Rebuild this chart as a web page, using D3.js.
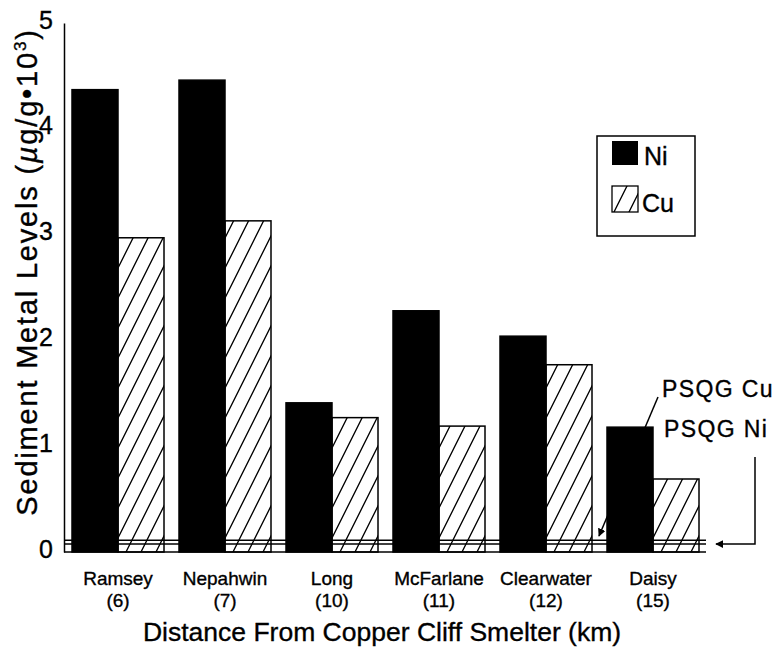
<!DOCTYPE html>
<html>
<head>
<meta charset="utf-8">
<script src="https://cdn.jsdelivr.net/npm/d3@7"></script>
<style>
  body { margin: 0; background: #fff; }
  text { font-family: "Liberation Sans", Arial, sans-serif; fill: #000; stroke: #000; stroke-width: 0.35px; }
</style>
</head>
<body>
<div id="chart"></div>
<script>
// lakes and their distance from the smelter (km)
const lakes = ["Ramsey", "Nepahwin", "Long", "McFarlane", "Clearwater", "Daisy"];
const distances = ["(6)", "(7)", "(10)", "(11)", "(12)", "(15)"];
// sediment metal levels, ug/g x 10^3
const niValues = [4.37, 4.46, 1.41, 2.28, 2.04, 1.18];
const cuValues = [2.97, 3.13, 1.27, 1.19, 1.77, 0.69];
const metals = ["Ni", "Cu"];
// guideline levels
const psqgCu = 0.11;
const psqgNi = 0.075;
const yTicks = [0, 1, 2, 3, 4, 5];

const width = 779, height = 653;

const svg = d3.select("#chart").append("svg")
    .attr("width", width)
    .attr("height", height);

// diagonal hatch for Cu
const defs = svg.append("defs");
defs.append("pattern")
    .attr("id", "hatch")
    .attr("patternUnits", "userSpaceOnUse")
    .attr("width", 15)
    .attr("height", 30)
    .append("path")
    .attr("d", "M-1,32 L16,-2 M14,32 L31,-2 M-16,32 L1,-2")
    .attr("stroke", "#000")
    .attr("stroke-width", 1.3);

const y = d3.scaleLinear().domain([0, 5]).range([552, 23]);
const x = d3.scaleBand().domain(lakes).range([72, 699]).paddingInner(15 / 107).paddingOuter(0);
const xInner = d3.scaleBand().domain(metals).range([0, x.bandwidth()]);

const axisX = 64, axisRight = 706;

// bars
const data = lakes.map((lake, i) => ({ lake, Ni: niValues[i], Cu: cuValues[i] }));
const groups = svg.selectAll(".grp")
    .data(data)
    .enter().append("g")
    .attr("class", "grp")
    .attr("transform", d => `translate(${x(d.lake)},0)`);

groups.selectAll("rect")
    .data(d => metals.map(m => ({ metal: m, value: d[m] })))
    .enter().append("rect")
    .attr("x", d => xInner(d.metal))
    .attr("y", d => y(d.value))
    .attr("width", xInner.bandwidth())
    .attr("height", d => y(0) - y(d.value))
    .attr("fill", d => d.metal === "Ni" ? "#000" : "url(#hatch)")
    .attr("stroke", "#000")
    .attr("stroke-width", 1.5);

// PSQG lines
[psqgCu, psqgNi].forEach(v => {
    svg.append("line")
        .attr("x1", axisX).attr("x2", axisRight)
        .attr("y1", y(v)).attr("y2", y(v))
        .attr("stroke", "#000").attr("stroke-width", 1.5);
});

// baseline
svg.append("line")
    .attr("x1", axisX).attr("x2", axisRight)
    .attr("y1", y(0)).attr("y2", y(0))
    .attr("stroke", "#000").attr("stroke-width", 1.5);

// y axis
const yAxis = d3.axisLeft(y).tickValues(yTicks).tickFormat(d3.format("d"))
    .tickSizeInner(0).tickSizeOuter(0).tickPadding(11);
const gy = svg.append("g")
    .attr("transform", `translate(${axisX},0)`)
    .call(yAxis);
gy.select(".domain").attr("stroke", "#000").attr("stroke-width", 1.5);
gy.selectAll("text")
    .style("font-family", "'Liberation Sans', Arial, sans-serif")
    .style("font-size", "25px")
    .attr("dy", "0.2em");

// y title
svg.append("text")
    .attr("transform", `translate(37,272) rotate(-90)`)
    .attr("text-anchor", "middle")
    .style("font-size", "29px")
    .style("letter-spacing", "1.8px")
    .html("Sediment Metal Levels (<tspan font-style='italic'>µ</tspan>g/g•10<tspan dy='-11' font-size='17px'>3</tspan><tspan dy='11'>)</tspan>");

// category labels
lakes.forEach((lake, i) => {
    const cx = x(lake) + x.bandwidth() / 2;
    svg.append("text").attr("x", cx).attr("y", 585)
        .attr("text-anchor", "middle").style("font-size", "19px").text(lake);
    svg.append("text").attr("x", cx).attr("y", 607)
        .attr("text-anchor", "middle").style("font-size", "19px").text(distances[i]);
});

// x title
svg.append("text")
    .attr("x", 382).attr("y", 641)
    .attr("text-anchor", "middle")
    .style("font-size", "26.5px")
    .text("Distance From Copper Cliff Smelter (km)");

// legend
const lg = svg.append("g");
lg.append("rect").attr("x", 597).attr("y", 136).attr("width", 98).attr("height", 100)
    .attr("fill", "#fff").attr("stroke", "#000").attr("stroke-width", 1.5);
lg.append("rect").attr("x", 612).attr("y", 141).attr("width", 26).attr("height", 24)
    .attr("fill", "#000");
lg.append("text").attr("x", 644).attr("y", 165).style("font-size", "25px").text("Ni");
lg.append("rect").attr("x", 612).attr("y", 186).attr("width", 26).attr("height", 26)
    .attr("fill", "url(#hatch)").attr("stroke", "#000").attr("stroke-width", 1.3);
lg.append("text").attr("x", 642).attr("y", 212).style("font-size", "25px").text("Cu");

// PSQG annotations
svg.append("text").attr("x", 662).attr("y", 397).style("font-size", "23px")
    .style("letter-spacing", "1.4px").text("PSQG Cu");
svg.append("text").attr("x", 664).attr("y", 437).style("font-size", "23px")
    .style("letter-spacing", "1.4px").text("PSQG Ni");

defs.append("marker")
    .attr("id", "arrow")
    .attr("viewBox", "0 0 10 10")
    .attr("refX", 9).attr("refY", 5)
    .attr("markerWidth", 8).attr("markerHeight", 8)
    .attr("markerUnits", "userSpaceOnUse")
    .attr("orient", "auto")
    .append("path").attr("d", "M0,0 L10,5 L0,10 Z").attr("fill", "#000");

svg.append("line")
    .attr("x1", 658).attr("y1", 397).attr("x2", 599).attr("y2", 536)
    .attr("stroke", "#000").attr("stroke-width", 1.5)
    .attr("marker-end", "url(#arrow)");

svg.append("path")
    .attr("d", `M755,457 L755,${y(psqgNi)} L716,${y(psqgNi)}`)
    .attr("fill", "none").attr("stroke", "#000").attr("stroke-width", 1.5)
    .attr("marker-end", "url(#arrow)");
</script>
</body>
</html>
